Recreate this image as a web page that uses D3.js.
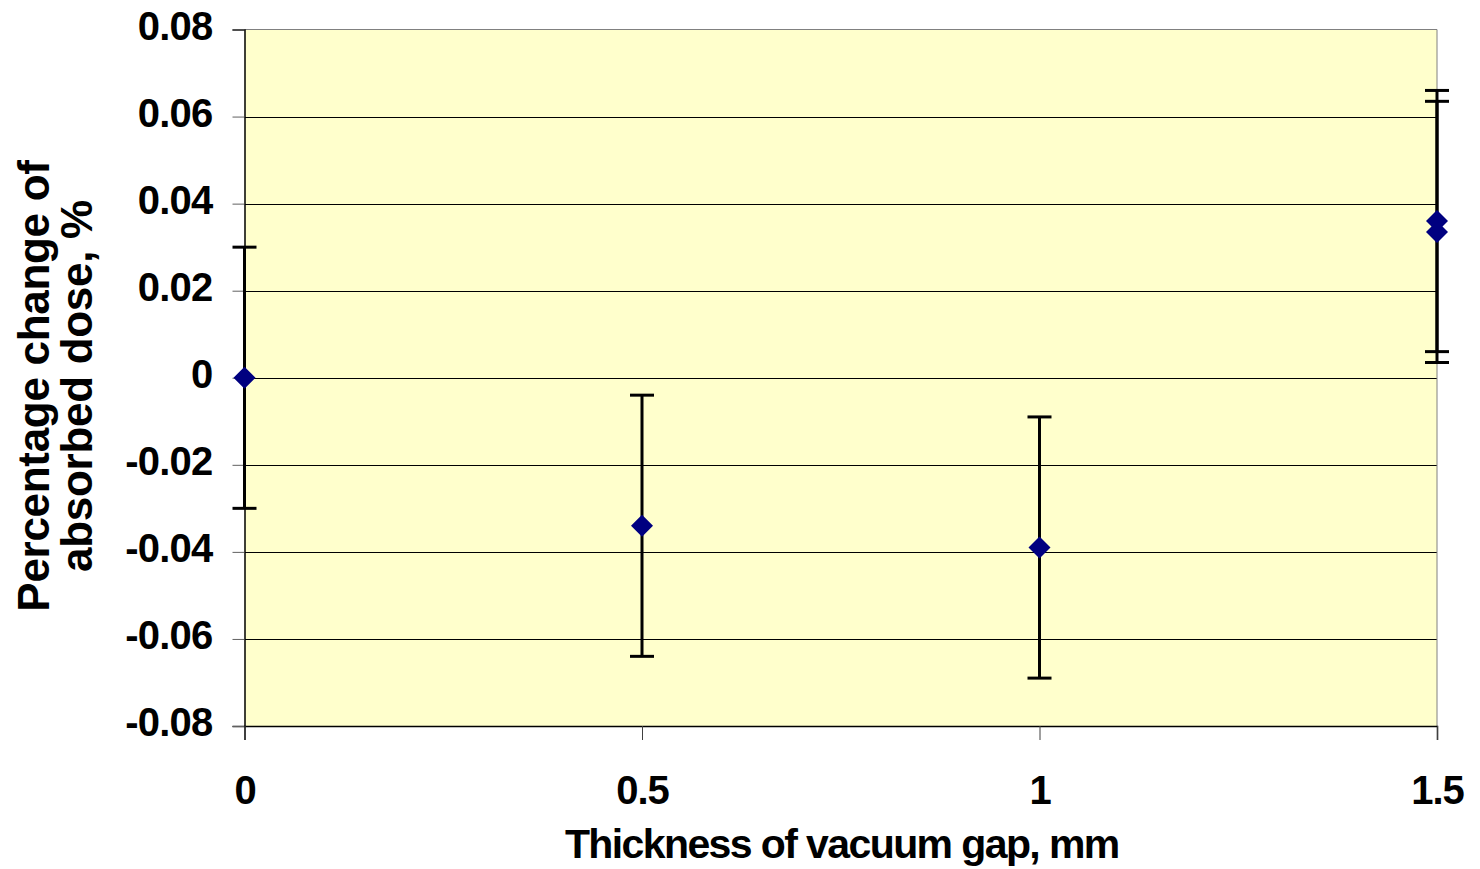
<!DOCTYPE html>
<html>
<head>
<meta charset="utf-8">
<script src="https://cdn.jsdelivr.net/npm/d3@7"></script>
<style>
  html, body { margin: 0; padding: 0; background: #ffffff; }
  svg { display: block; }
  text { font-family: "Liberation Sans", Arial, sans-serif; font-weight: bold; fill: #000; }
</style>
</head>
<body>
<svg id="chart" width="1480" height="869"></svg>
<script>
// Data
const gapThickness = [0, 0.5, 1, 1.5, 1.5];
const doseChange   = [0, -0.034, -0.039, 0.036, 0.0335];
const errorPlus    = [0.03, 0.03, 0.03, 0.03, 0.03];
const errorMinus   = [0.03, 0.03, 0.03, 0.03, 0.03];
const xTicks = [0, 0.5, 1, 1.5];
const yTicks = [-0.08, -0.06, -0.04, -0.02, 0, 0.02, 0.04, 0.06, 0.08];
const xTitle = "Thickness of vacuum gap, mm";
const yTitleLines = ["Percentage change of", "absorbed dose, %"];

const svg = d3.select("#chart");
const L = 244.5, R = 1437, T = 29.5, B = 726;

const x = d3.scaleLinear().domain([0, 1.5]).range([L, R]);
const y = d3.scaleLinear().domain([-0.08, 0.08]).range([B, T]);

// plot background
svg.append("rect").attr("x", L).attr("y", T).attr("width", R - L).attr("height", B - T)
  .attr("fill", "#FFFFCC");

// gridlines
svg.append("g").selectAll("line").data(yTicks.filter(d => d > -0.08 && d < 0.08)).join("line")
  .attr("x1", L).attr("x2", R)
  .attr("y1", d => Math.round(y(d)) + 0.5).attr("y2", d => Math.round(y(d)) + 0.5)
  .attr("stroke", "#000").attr("stroke-width", 1);

// plot border (top and right gray)
svg.append("path")
  .attr("d", `M${L},${T}H${R}V${B}`)
  .attr("fill", "none").attr("stroke", "#808080").attr("stroke-width", 1);

// Y axis
const yAxis = d3.axisLeft(y).tickValues(yTicks).tickSize(12).tickPadding(20)
  .tickFormat(d => d === 0 ? "0" : d3.format(".2f")(d).replace("−", "-"));
const gy = svg.append("g").attr("transform", `translate(${L},0)`).call(yAxis);
gy.select(".domain").attr("stroke", "#000").attr("stroke-width", 1.5);
gy.selectAll(".tick line").attr("stroke", "#606060").attr("stroke-width", 1);
gy.selectAll(".tick text")
  .style("font-size", "40px").style("letter-spacing", "-0.8px")
  .attr("font-family", null).attr("dy", "0.24em");

// X axis
const xAxis = d3.axisBottom(x).tickValues(xTicks).tickSize(14).tickPadding(36)
  .tickFormat(d => String(d));
const gx = svg.append("g").attr("transform", `translate(0,${B})`).call(xAxis);
gx.select(".domain").attr("stroke", "#000").attr("stroke-width", 1.5);
gx.selectAll(".tick line").attr("stroke", "#404040").attr("stroke-width", 1);
gx.selectAll(".tick text")
  .style("font-size", "40px").style("letter-spacing", "-1px")
  .attr("font-family", null);

// error bars
const pts = gapThickness.map((g, i) => ({ g, v: doseChange[i], ep: errorPlus[i], em: errorMinus[i] }));
const eb = svg.append("g");
eb.selectAll("line.stem").data(pts).join("line").attr("class", "stem")
  .attr("x1", d => x(d.g)).attr("x2", d => x(d.g))
  .attr("y1", d => y(d.v + d.ep)).attr("y2", d => y(d.v - d.em))
  .attr("stroke", "#000").attr("stroke-width", 3);
const capHalf = 12;
eb.selectAll("line.capTop").data(pts).join("line").attr("class", "capTop")
  .attr("x1", d => x(d.g) - capHalf).attr("x2", d => x(d.g) + capHalf)
  .attr("y1", d => y(d.v + d.ep)).attr("y2", d => y(d.v + d.ep))
  .attr("stroke", "#000").attr("stroke-width", 3);
eb.selectAll("line.capBot").data(pts).join("line").attr("class", "capBot")
  .attr("x1", d => x(d.g) - capHalf).attr("x2", d => x(d.g) + capHalf)
  .attr("y1", d => y(d.v - d.em)).attr("y2", d => y(d.v - d.em))
  .attr("stroke", "#000").attr("stroke-width", 3);

// diamond markers
const r = 11;
svg.append("g").selectAll("path").data(pts).join("path")
  .attr("d", d => {
    const cx = x(d.g), cy = y(d.v);
    return `M${cx},${cy - r}L${cx + r},${cy}L${cx},${cy + r}L${cx - r},${cy}Z`;
  })
  .attr("fill", "#000080");

// axis titles
svg.append("text").attr("x", (L + R) / 2 + 1).attr("y", 858)
  .attr("text-anchor", "middle").style("font-size", "41px").style("letter-spacing", "-1.6px")
  .text(xTitle);

const yt = svg.append("text").attr("transform", "translate(0,386) rotate(-90)")
  .attr("text-anchor", "middle").style("font-size", "44px").style("letter-spacing", "-0.3px");
yt.selectAll("tspan").data(yTitleLines).join("tspan")
  .attr("x", 0).attr("y", (d, i) => 49 + i * 43)
  .text(d => d);
</script>
</body>
</html>
